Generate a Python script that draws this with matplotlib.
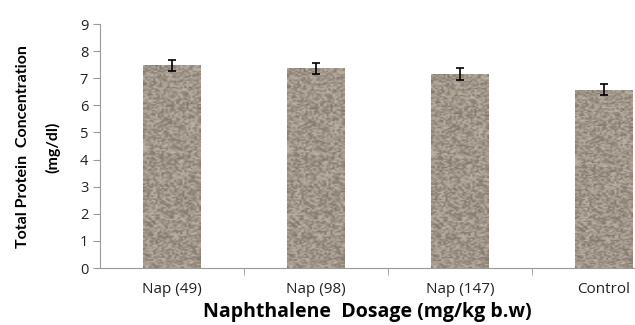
import numpy as np
import matplotlib.pyplot as plt

# data
categories = ["Nap (49)", "Nap (98)", "Nap (147)", "Control"]
protein = [7.47, 7.37, 7.15, 6.58]
errors = [0.2, 0.2, 0.22, 0.2]

plt.rcParams['font.family'] = ['Open Sans', 'DejaVu Sans']

fig = plt.figure(figsize=(6.35, 3.25), dpi=100)
# axes runs past the right edge like the original crop
ax = fig.add_axes([100 / 635, (325 - 268) / 325, 576 / 635, 244 / 325])

x = np.arange(len(categories))
bars = ax.bar(x, protein, width=0.4, color='#a09484', edgecolor='none', zorder=1)

# speckled granite-like texture inside the bars (styling only)
rng = np.random.default_rng(3)
tex = rng.normal(0, 1, (140, 28))
base = np.array([160, 149, 137]) / 255
img = np.clip(base[None, None, :] + np.tanh(tex[..., None] * 0.8) * 0.13, 0, 1)
for b in bars:
    x0, w, h = b.get_x(), b.get_width(), b.get_height()
    im = ax.imshow(img, extent=[x0, x0 + w, 0, h], aspect='auto', zorder=2, interpolation='bilinear')
    im.set_clip_path(b)

ax.errorbar(x, protein, yerr=errors, fmt='none', ecolor='black', elinewidth=1.2,
            capsize=3, capthick=1.2, zorder=3)

ax.set_xlim(-0.5, 3.5)
ax.set_ylim(0, 9)
ax.set_yticks(range(10))
ax.set_xticks(x)
ax.set_xticklabels(categories)
ax.set_xticks(x[:-1] + 0.5, minor=True)
ax.tick_params(axis='x', which='major', length=0, pad=10, labelsize=11, colors='#222222')
ax.tick_params(axis='x', which='minor', length=5, color='#999999', direction='out')
ax.tick_params(axis='y', length=5, color='#999999', labelsize=10.5, labelcolor='#222222')

for s in ['top', 'right']:
    ax.spines[s].set_visible(False)
ax.spines['left'].set_color('#999999')
ax.spines['bottom'].set_color('#999999')

fig.text(367 / 635, 1 - 312 / 325, "Naphthalene  Dosage (mg/kg b.w)", ha='center', va='center',
         fontsize=14, fontweight='bold')
fig.text(38 / 635, 1 - 147 / 325, "Total Protein  Concentration\n(mg/dl)", ha='center', va='center',
         rotation=90, fontsize=11.5, fontweight='bold', linespacing=2.3,
         family=['Lato', 'DejaVu Sans'])

fig.savefig("out.png", dpi=100)
